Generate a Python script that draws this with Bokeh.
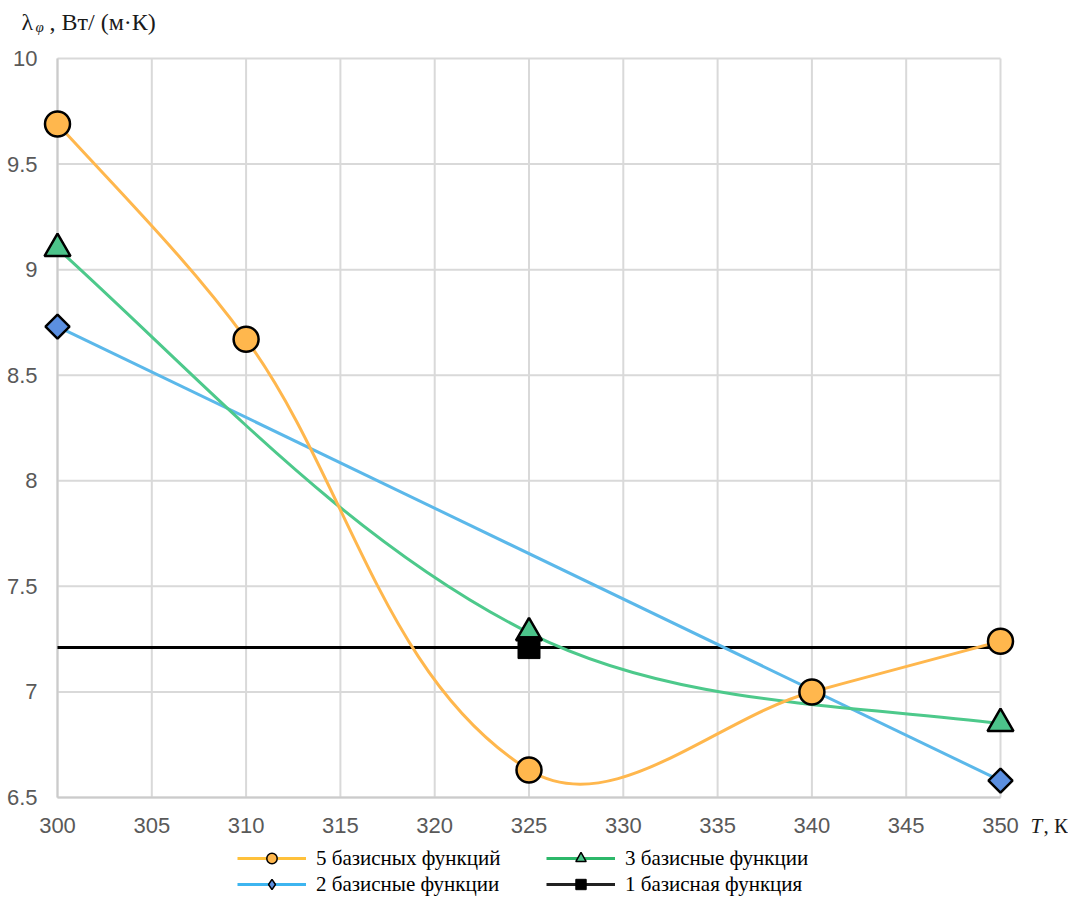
import math
from bokeh.plotting import figure
from bokeh.models import (Range1d, FixedTicker, Legend, LegendItem, Label, ColumnDataSource,
                          LinearAxis)
from bokeh.embed import file_html
from bokeh.resources import INLINE

# ---------------- data ----------------
x5 = [300, 310, 325, 340, 350]
y5 = [9.69, 8.67, 6.63, 7.00, 7.24]

x3 = [300, 325, 350]
y3 = [9.10, 7.28, 6.85]

x2 = [300, 350]
y2 = [8.73, 6.58]

x1_line = [300, 350]
y1_line = [7.21, 7.21]
x1 = [325]
y1 = [7.21]

x_ticks = [300, 305, 310, 315, 320, 325, 330, 335, 340, 345, 350]
y_ticks = [6.5, 7, 7.5, 8, 8.5, 9, 9.5, 10]
y_tick_labels = ["6.5", "7", "7.5", "8", "8.5", "9", "9.5", "10"]

series_names = ["5 базисных функций", "3 базисные функции",
                "2 базисные функции", "1 базисная функция"]

# ---------------- layout ----------------
W, H = 1068, 899
X0, X1 = 300, 350
Y0, Y1 = 6.5, 10
PX_L, PX_R, PY_T, PY_B = 57, 1000, 58, 797     # where the axis box sits on the canvas
SX = (PX_R - PX_L) / (X1 - X0)
SY = (PY_B - PY_T) / (Y1 - Y0)


def dx(px):
    return X0 + (px - PX_L) / SX


def dy(py):
    return Y1 - (py - PY_T) / SY


ORANGE = "#FFB74D"
GREEN_L = "#4DC98B"
GREEN_F = "#4CC38A"
BLUE_L = "#5BB8EA"
BLUE_F = "#5B8FE0"
GRID = "#d9d9d9"

p = figure(width=W, height=H, output_backend="svg", toolbar_location=None,
           x_range=Range1d(dx(0), dx(W)), y_range=Range1d(dy(H), dy(0)),
           x_axis_location=None, y_axis_location=None,
           min_border=0)
p.outline_line_color = None
p.background_fill_color = "white"
p.xgrid.visible = False
p.ygrid.visible = False

xaxis = LinearAxis(fixed_location=Y0, bounds=(X0, X1), ticker=FixedTicker(ticks=x_ticks))
yaxis = LinearAxis(fixed_location=X0, bounds=(Y0, Y1), ticker=FixedTicker(ticks=y_ticks))
yaxis.major_label_overrides = {t: l for t, l in zip(y_ticks, y_tick_labels)}
for ax in (xaxis, yaxis):
    ax.axis_line_color = None
    ax.major_tick_line_color = None
    ax.minor_tick_line_color = None
    ax.major_label_text_font = "Liberation Sans"
    ax.major_label_text_font_size = "22px"
    ax.major_label_text_color = "#595959"
xaxis.major_label_standoff = 14
yaxis.major_label_standoff = 14
p.add_layout(xaxis, "below")
p.add_layout(yaxis, "left")

# grid lines at the tick positions, and the two axis lines
p.segment(x0=x_ticks, x1=x_ticks, y0=[Y0] * len(x_ticks), y1=[Y1] * len(x_ticks),
          line_color=GRID, line_width=2)
p.segment(x0=[X0] * len(y_ticks), x1=[X1] * len(y_ticks), y0=y_ticks, y1=y_ticks,
          line_color=GRID, line_width=2)
p.segment(x0=[X0, X0], x1=[X1, X0], y0=[Y0, Y0], y1=[Y0, Y1],
          line_color="#cbcbcb", line_width=2)


def smooth(xs, ys, k=1/3):
    """Bezier segments through the points (Excel-like smoothing in pixel space)."""
    P = [((x - X0) * SX, (y - Y0) * SY) for x, y in zip(xs, ys)]
    n = len(P)
    d = [None] * n
    for i in range(1, n - 1):
        ddx, ddy = P[i + 1][0] - P[i - 1][0], P[i + 1][1] - P[i - 1][1]
        L = math.hypot(ddx, ddy)
        d[i] = (ddx / L, ddy / L)
    segs = {k2: [] for k2 in ("x0", "y0", "x1", "y1", "cx0", "cy0", "cx1", "cy1")}
    for i in range(n - 1):
        a, b = P[i], P[i + 1]
        L = math.hypot(b[0] - a[0], b[1] - a[1])
        c1 = (a[0] + d[i][0] * L * k, a[1] + d[i][1] * L * k) if d[i] else None
        c2 = (b[0] - d[i + 1][0] * L * k, b[1] - d[i + 1][1] * L * k) if d[i + 1] else None
        if c1 is None and c2 is None:
            c1, c2 = a, b
        elif c1 is None:
            m = (a[0] + (c2[0] - a[0]) * 0.5, a[1] + (c2[1] - a[1]) * 0.5)
            ch = (a[0] + (b[0] - a[0]) * k, a[1] + (b[1] - a[1]) * k)
            c1 = ((m[0] + ch[0]) / 2, (m[1] + ch[1]) / 2)
        elif c2 is None:
            m = (b[0] + (c1[0] - b[0]) * 0.5, b[1] + (c1[1] - b[1]) * 0.5)
            ch = (b[0] + (a[0] - b[0]) * k, b[1] + (a[1] - b[1]) * k)
            c2 = ((m[0] + ch[0]) / 2, (m[1] + ch[1]) / 2)
        for key, pt in (("0", a), ("1", b)):
            segs["x" + key].append(X0 + pt[0] / SX)
            segs["y" + key].append(Y0 + pt[1] / SY)
        for key, pt in (("0", c1), ("1", c2)):
            segs["cx" + key].append(X0 + pt[0] / SX)
            segs["cy" + key].append(Y0 + pt[1] / SY)
    return ColumnDataSource(segs)


# lines
r1_line = p.line(x1_line, y1_line, line_color="black", line_width=3)
r2_line = p.line(x2, y2, line_color=BLUE_L, line_width=3)
s3 = smooth(x3, y3)
r3_line = p.bezier(x0="x0", y0="y0", x1="x1", y1="y1", cx0="cx0", cy0="cy0",
                   cx1="cx1", cy1="cy1", source=s3, line_color=GREEN_L, line_width=3)
s5 = smooth(x5, y5)
r5_line = p.bezier(x0="x0", y0="y0", x1="x1", y1="y1", cx0="cx0", cy0="cy0",
                   cx1="cx1", cy1="cy1", source=s5, line_color=ORANGE, line_width=3)

# markers
r2_m = p.scatter(x2, y2, marker="square", angle=math.pi / 4, size=17,
                 fill_color=BLUE_F, line_color="black", line_width=2.5)
r3_m = p.scatter(x3, y3, marker="triangle", size=26,
                 fill_color=GREEN_F, line_color="black", line_width=2.5)
r1_m = p.scatter(x1, y1, marker="square", size=22,
                 fill_color="black", line_color="black", line_width=1)
r5_m = p.scatter(x5, y5, marker="circle", size=25,
                 fill_color=ORANGE, line_color="black", line_width=2.5)

# legend renderers (hidden; used only for the legend swatches)
l5 = p.scatter([X0], [Y0], marker="circle", size=12, fill_color=ORANGE,
               line_color="black", line_width=1.5, visible=False)
l3 = p.scatter([X0], [Y0], marker="triangle", size=15, fill_color=GREEN_F,
               line_color="black", line_width=1.5, visible=False)
l2 = p.scatter([X0], [Y0], marker="diamond", size=14,
               fill_color=BLUE_F, line_color="black", line_width=1.5, visible=False)
l1 = p.scatter([X0], [Y0], marker="square", size=13, fill_color="black",
               line_color="black", visible=False)
ll5 = p.line([X0], [Y0], line_color="#FFC13B", line_width=3, visible=False)
ll3 = p.line([X0], [Y0], line_color="#2DB86A", line_width=3, visible=False)
ll2 = p.line([X0], [Y0], line_color="#3DB5F0", line_width=3, visible=False)
ll1 = p.line([X0], [Y0], line_color="#222222", line_width=3, visible=False)

legend = Legend(items=[
    LegendItem(label=series_names[0], renderers=[ll5, l5]),
    LegendItem(label=series_names[2], renderers=[ll2, l2]),
    LegendItem(label=series_names[1], renderers=[ll3, l3]),
    LegendItem(label=series_names[3], renderers=[ll1, l1]),
], ncols=2, orientation="vertical", location=(237, 2))
legend.label_text_font = "Liberation Serif"
legend.label_text_font_size = "21px"
legend.label_text_color = "black"
legend.glyph_width = 69
legend.glyph_height = 26
legend.label_height = 26
legend.label_width = 230
legend.spacing = 0
legend.label_standoff = 10
legend.padding = 2
legend.margin = 0
legend.border_line_color = None
legend.background_fill_alpha = 0
p.add_layout(legend, "center")

# axis titles
TXT = "#1a1a1a"
p.add_layout(Label(x=dx(21), y=dy(21), text="λ", text_font="Liberation Serif",
                   text_font_size="24px", text_baseline="alphabetic", text_color=TXT))
p.add_layout(Label(x=dx(35), y=dy(26), text="φ", text_font="Liberation Serif",
                   text_font_style="italic", text_font_size="15px",
                   text_baseline="alphabetic", text_color=TXT))
p.add_layout(Label(x=dx(49), y=dy(21), text=", Вт/ (м·К)", text_font="Liberation Serif",
                   text_font_size="24px", text_baseline="alphabetic", text_color=TXT))
p.add_layout(Label(x=dx(1030), y=dy(825), text="T", text_font="Liberation Serif",
                   text_font_style="italic", text_font_size="21px",
                   text_baseline="alphabetic", text_color=TXT))
p.add_layout(Label(x=dx(1043), y=dy(825), text=", К", text_font="Liberation Serif",
                   text_font_size="21px", text_baseline="alphabetic", text_color=TXT))

open("out.html", "w").write(file_html(p, INLINE))
